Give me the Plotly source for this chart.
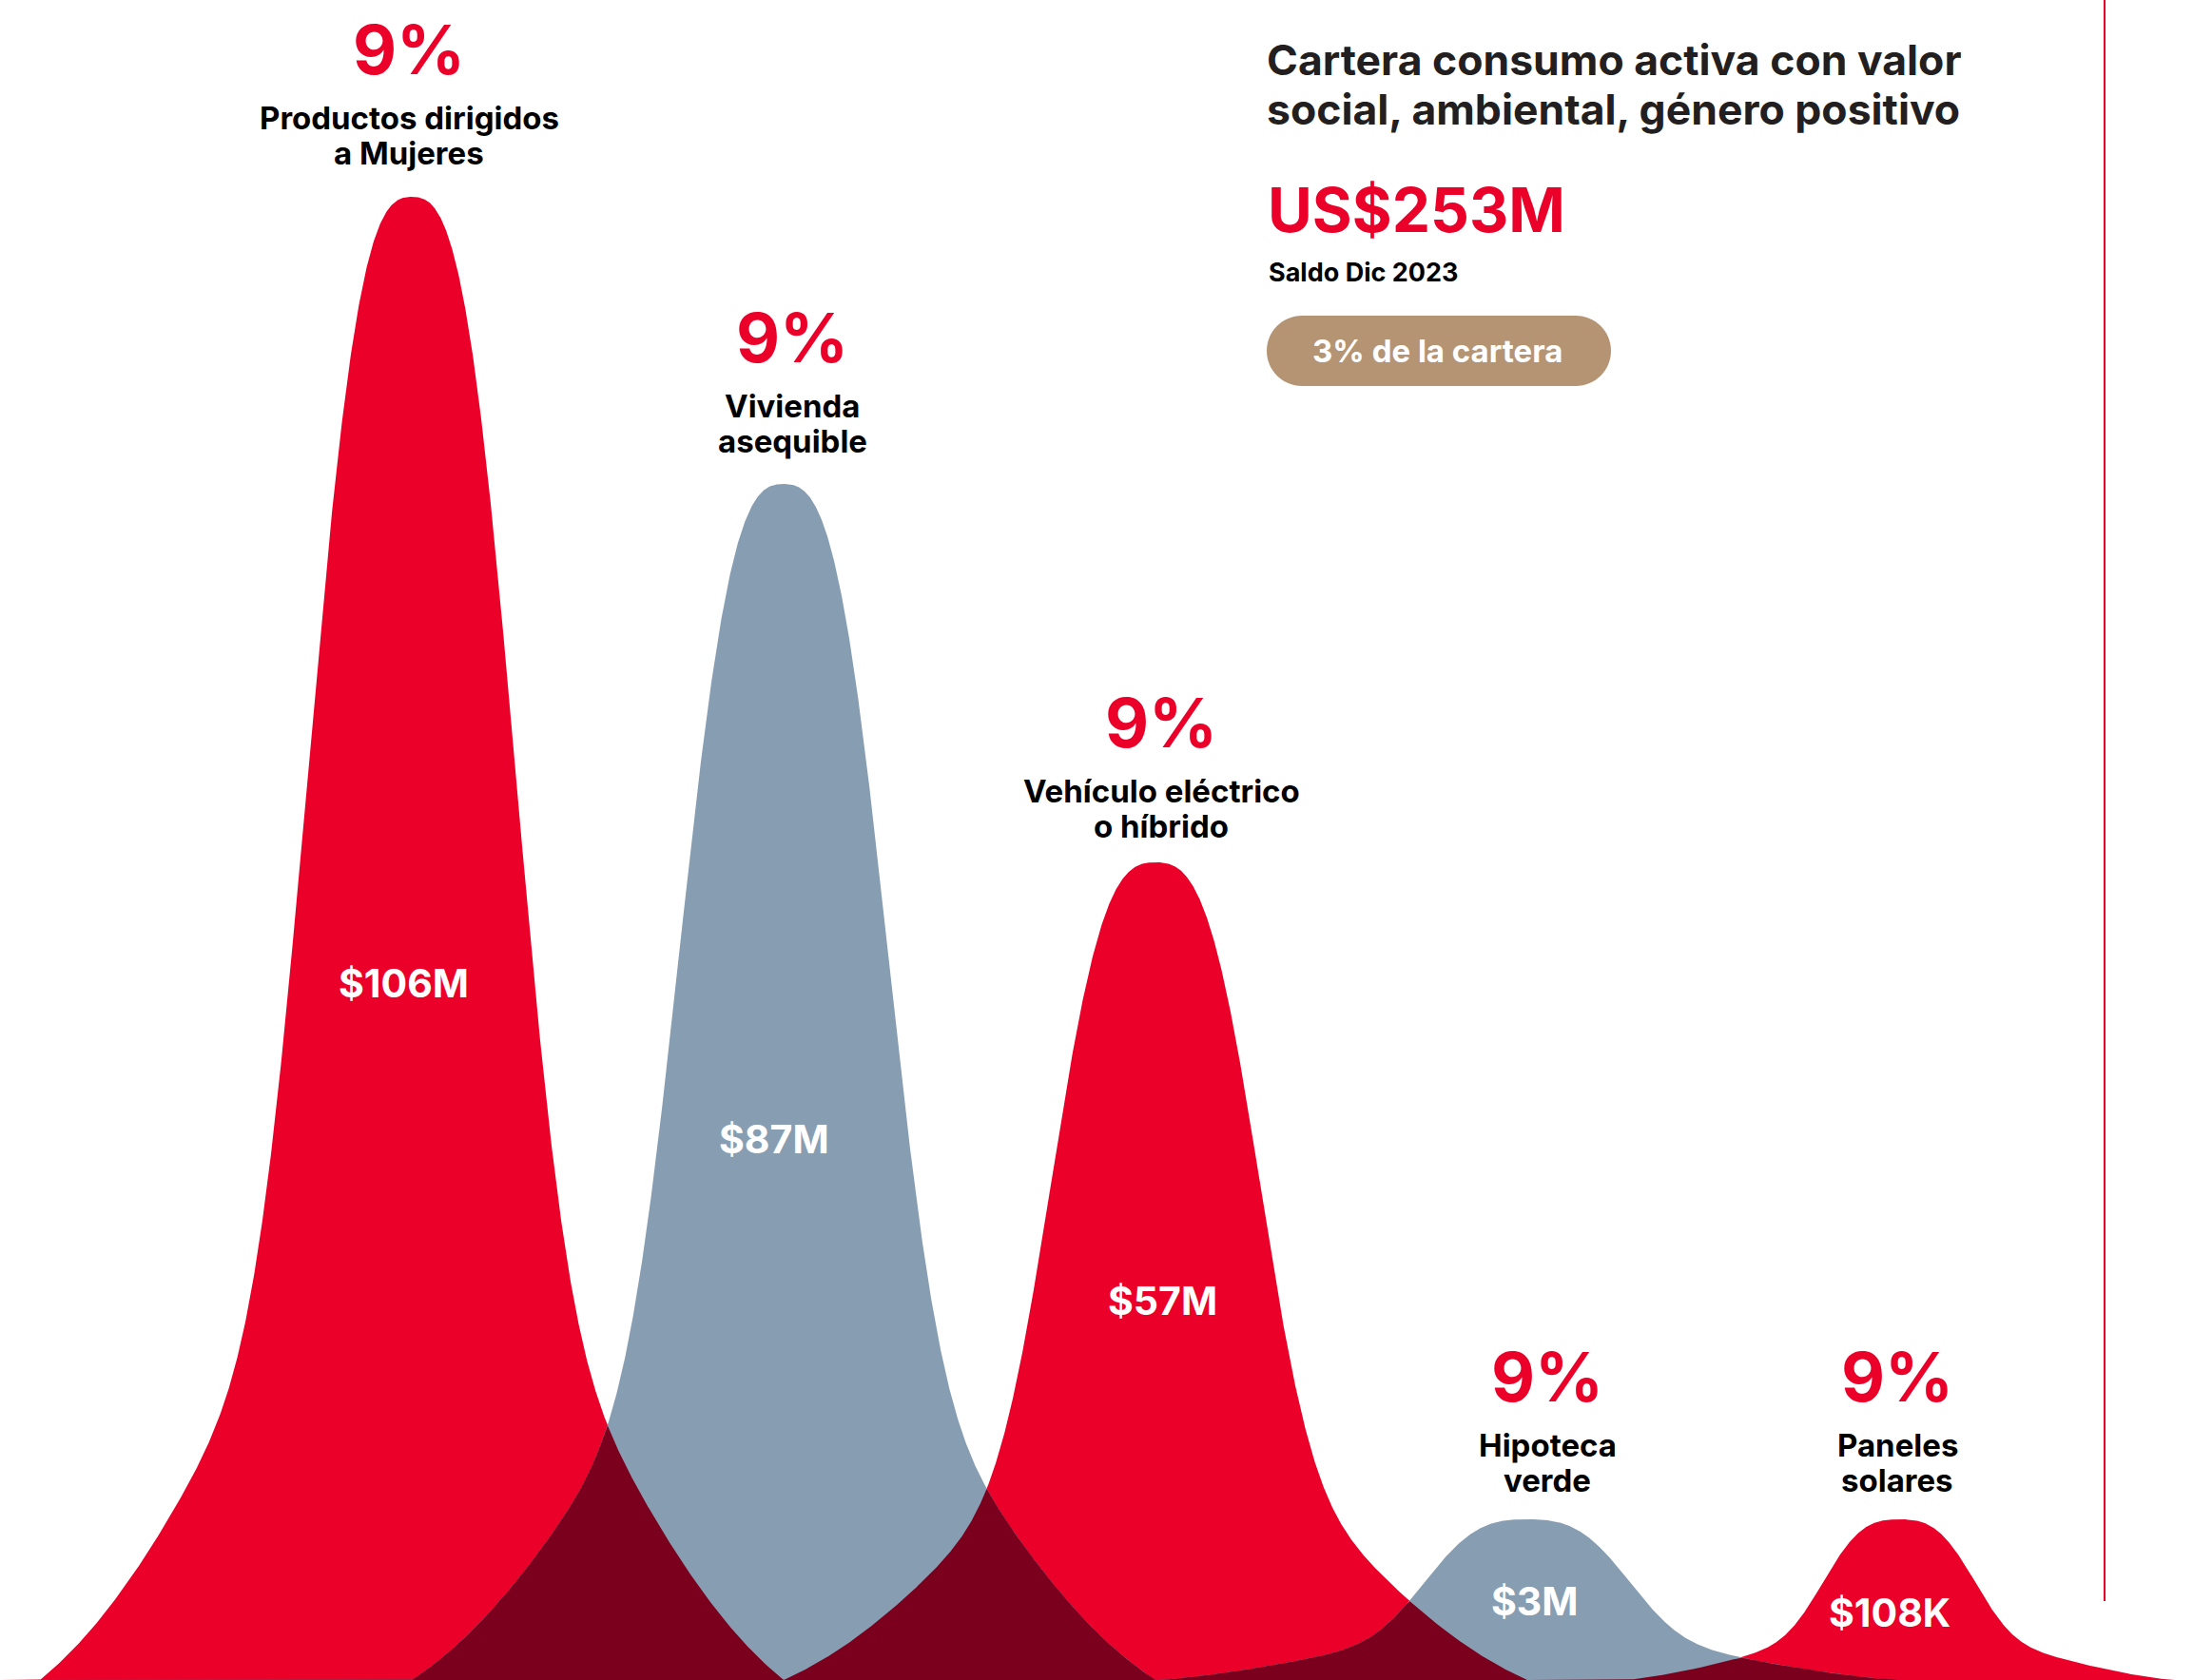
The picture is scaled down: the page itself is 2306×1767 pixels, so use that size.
import numpy as np
import plotly.graph_objects as go

# ---------------- data ----------------
categories = ["Productos dirigidos<br>a Mujeres", "Vivienda<br>asequible",
              "Vehículo eléctrico<br>o híbrido", "Hipoteca<br>verde", "Paneles<br>solares"]
amounts = ["$106M", "$87M", "$57M", "$3M", "$108K"]
shares = ["9%", "9%", "9%", "9%", "9%"]
bell_heights = [1560, 1258, 860, 169, 169]          # visual height of each bell (y-axis units)
total_label = "US$253M"
total_note = "Saldo Dic 2023"
share_of_portfolio = "3% de la cartera"
title_lines = ["Cartera consumo activa con valor", "social, ambiental, género positivo"]

# ---------------- styles ----------------
bell_spread = [1.0, 1.0, 1.0, 0.985, 0.73]
bell_kind = ["red", "grey", "red", "grey", "red"]
amount_level = [0.47, 0.452, 0.464, 0.49, 0.42]     # label height as fraction of bell height
amount_dx = [-9, -10, 7, 8, -10]                     # px nudges of the amount labels
label_lift = [5, 4, -3, 0, 0]                        # px nudges of the headers
header_dx = [-3, 9, 6, 21, -2]
RED = "#EB0029"
GREY = "#879EB2"
DARK = "#7A001E"
TAN = "#B59474"
INK = "#231F20"
FONT = "Inter"

W, H = 2306, 1767
STEP, X0 = 391.0, 433.0
xmin, xmax = -X0 / STEP, (W - X0) / STEP


def profile(u):
    u = np.abs(u)
    def G(v):
        return 0.643 * np.exp(-(v / 0.3174) ** 3) + 0.357 * np.exp(-v ** 2 / 0.5)
    g1 = G(1.0)
    return np.clip((G(u) - g1) / (1 - g1), 0, None)


xs = np.linspace(xmin, xmax, 4000)
curves = [h * profile((xs - i) / s) for i, (h, s) in enumerate(zip(bell_heights, bell_spread))]
red_top = np.max([c for c, k in zip(curves, bell_kind) if k == "red"], axis=0)
grey_top = np.max([c for c, k in zip(curves, bell_kind) if k == "grey"], axis=0)
overlap = np.minimum(red_top, grey_top)

fig = go.Figure()
for yv, col in [(red_top, RED), (grey_top, GREY), (overlap, DARK)]:
    fig.add_trace(go.Scatter(x=xs, y=yv, mode="lines", fill="tozeroy",
                             line=dict(width=0, color=col), fillcolor=col,
                             hoverinfo="skip", showlegend=False))

ann = []
for i, (cat, amt, sh, h) in enumerate(zip(categories, amounts, shares, bell_heights)):
    lift = label_lift[i]
    ann.append(dict(x=i, y=h, xref="x", yref="y", text=sh, showarrow=False,
                    xshift=header_dx[i], yshift=150 + lift, xanchor="center", yanchor="middle",
                    font=dict(family=FONT, size=71, color=RED, weight=700)))
    lines = cat.split("<br>")
    for j, ln in enumerate(lines):
        ann.append(dict(x=i, y=h, xref="x", yref="y", text=ln, showarrow=False,
                        xshift=header_dx[i], yshift=78 - 37 * j + lift,
                        xanchor="center", yanchor="middle",
                        font=dict(family=FONT, size=33, color="#000000", weight=700)))
    ann.append(dict(x=i, y=amount_level[i] * h, xref="x", yref="y", text=amt, showarrow=False,
                    xshift=amount_dx[i], xanchor="center", yanchor="middle",
                    font=dict(family=FONT, size=41, color="#FFFFFF", weight=700)))


def px(x):
    return x / W


def py(y):
    return 1 - y / H


for j, t in enumerate(title_lines):
    ann.append(dict(x=px(1330), y=py(63 + 52 * j), xref="paper", yref="paper", text=t,
                    showarrow=False, xanchor="left", yanchor="middle",
                    font=dict(family=FONT, size=44.5, color=INK, weight=700)))
ann.append(dict(x=px(1331), y=py(221), xref="paper", yref="paper", text=total_label,
                showarrow=False, xanchor="left", yanchor="middle",
                font=dict(family=FONT, size=64, color=RED, weight=700)))
ann.append(dict(x=px(1332), y=py(287), xref="paper", yref="paper", text=total_note,
                showarrow=False, xanchor="left", yanchor="middle",
                font=dict(family=FONT, size=27, color="#000000", weight=700)))
ann.append(dict(x=px(1511), y=py(369), xref="paper", yref="paper", text=share_of_portfolio,
                showarrow=False, xanchor="center", yanchor="middle",
                font=dict(family=FONT, size=33, color="#FFFFFF", weight=700)))

# pill shape
x0, x1, y0, y1 = 1332, 1694, 332, 406
r = (y1 - y0) / 2
k = 0.5523 * r
pts = [("M", [(x0 + r, y0)]), ("L", [(x1 - r, y0)]),
       ("C", [(x1 - r + k, y0), (x1, y0 + r - k), (x1, y0 + r)]),
       ("C", [(x1, y0 + r + k), (x1 - r + k, y1), (x1 - r, y1)]),
       ("L", [(x0 + r, y1)]),
       ("C", [(x0 + r - k, y1), (x0, y0 + r + k), (x0, y0 + r)]),
       ("C", [(x0, y0 + r - k), (x0 + r - k, y0), (x0 + r, y0)])]
path = " ".join(cmd + " " + " ".join(f"{px(a):.6f},{py(b):.6f}" for a, b in p) for cmd, p in pts) + " Z"

shapes = [
    dict(type="path", xref="paper", yref="paper", path=path, fillcolor=TAN, line=dict(width=0), layer="below"),
    dict(type="line", xref="paper", yref="paper", x0=px(2213), x1=px(2213), y0=py(0), y1=py(1684),
         line=dict(color=RED, width=2)),
]

fig.update_layout(
    width=W, height=H, margin=dict(l=0, r=0, t=0, b=0),
    paper_bgcolor="white", plot_bgcolor="white",
    xaxis=dict(range=[xmin, xmax], visible=False, fixedrange=True),
    yaxis=dict(range=[0, H], visible=False, fixedrange=True),
    annotations=ann, shapes=shapes, showlegend=False,
)
fig.write_html("out.html", config={"displayModeBar": False},
               post_script="document.body.style.margin='0';document.body.style.overflow='hidden';")
